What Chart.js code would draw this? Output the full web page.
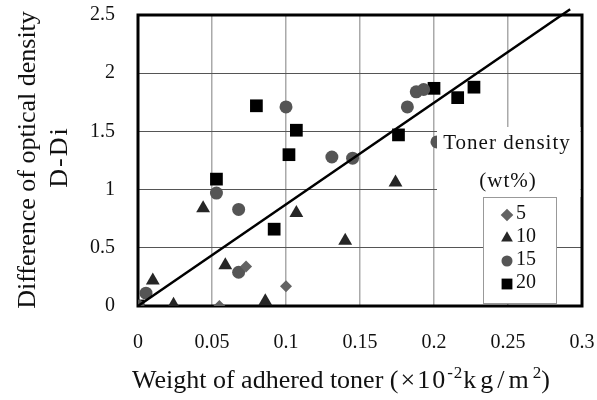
<!DOCTYPE html>
<html>
<head>
<meta charset="utf-8">
<script src="https://cdn.jsdelivr.net/npm/chart.js@4.4.1/dist/chart.umd.min.js"></script>
<style>
  body { margin: 0; background: #fff; }
</style>
</head>
<body>
<canvas id="c" width="597" height="400"></canvas>
<script>
// values
const seriesNames = ["5", "10", "15", "20"]

const x5 = [0.055, 0.073, 0.100]
const y5 = [0, 0.34, 0.17]

const x10 = [0.010, 0.024, 0.044, 0.059, 0.086, 0.107, 0.140, 0.174]
const y10 = [0.22, 0.01, 0.84, 0.35, 0.04, 0.80, 0.56, 1.06]

const x15 = [0, 0.0054, 0.053, 0.068, 0.068, 0.100, 0.131, 0.145, 0.182, 0.188, 0.193, 0.202]
const y15 = [0, 0.11, 0.97, 0.83, 0.29, 1.71, 1.28, 1.27, 1.71, 1.84, 1.86, 1.41]

const x20 = [0, 0.053, 0.080, 0.092, 0.102, 0.107, 0.176, 0.200, 0.216, 0.227]
const y20 = [0, 1.09, 1.72, 0.66, 1.30, 1.51, 1.47, 1.87, 1.79, 1.88]

// fitted line, end points
const lineX = [0, 0.292]
const lineY = [0, 2.55]

const xTickLabels = ["0", "0.05", "0.1", "0.15", "0.2", "0.25", "0.3"]
const yTickLabels = ["0", "0.5", "1", "1.5", "2", "2.5"]

const serif = "'Liberation Serif', 'Times New Roman', serif"

function pts(xs, ys) {
  return xs.map((x, i) => ({ x: x, y: ys[i] }))
}

const styles = [
  { pointStyle: "rectRot", radius: 6, color: "#636363" },
  { pointStyle: "triangle", radius: 8, color: "#262626" },
  { pointStyle: "circle", radius: 6.5, color: "#555555" },
  { pointStyle: "rect", radius: 9, color: "#000000" }
]
const legendScale = [1.05, 0.85, 0.85, 0.85]

const seriesData = [pts(x5, y5), pts(x10, y10), pts(x15, y15), pts(x20, y20)]

const datasets = seriesData.map((d, i) => ({
  label: seriesNames[i],
  data: d,
  showLine: false,
  pointStyle: styles[i].pointStyle,
  pointRadius: styles[i].radius,
  pointHoverRadius: styles[i].radius,
  pointBackgroundColor: styles[i].color,
  pointBorderColor: styles[i].color,
  pointBorderWidth: 0
}))

datasets.unshift({
  label: "fit",
  data: pts(lineX, lineY),
  showLine: true,
  borderColor: "#000",
  borderWidth: 2.5,
  pointRadius: 0,
  clip: 12
})

const decor = {
  id: "decor",
  beforeDatasetsDraw(chart) {
    const { ctx, chartArea: a } = chart
    ctx.save()
    ctx.strokeStyle = "#000"
    ctx.lineWidth = 3
    ctx.strokeRect(a.left, a.top, a.right - a.left, a.bottom - a.top)
    ctx.restore()
  },
  afterDatasetsDraw(chart) {
    const { ctx, chartArea: a } = chart
    ctx.save()
    // white box behind the legend heading
    ctx.fillStyle = "#fff"
    ctx.fillRect(437, 127, a.right - 438.5, 70)
    ctx.fillStyle = "#111"
    ctx.font = "21px " + serif
    ctx.letterSpacing = "1px"
    ctx.textAlign = "center"
    ctx.textBaseline = "middle"
    ctx.fillText("Toner density", 507, 143)
    ctx.fillText("(wt%)", 508, 181)
    ctx.letterSpacing = "0px"

    // legend box
    ctx.fillStyle = "#fff"
    ctx.fillRect(483, 197, 73, 106)
    ctx.strokeStyle = "#999"
    ctx.lineWidth = 1
    ctx.strokeRect(483.5, 197.5, 73, 106)
    const ly = [215, 238, 261, 284]
    chart.data.datasets.slice(1).forEach((ds, i) => {
      ctx.fillStyle = ds.pointBackgroundColor
      ctx.strokeStyle = ds.pointBorderColor
      Chart.helpers.drawPoint(ctx, {
        pointStyle: ds.pointStyle,
        radius: ds.pointRadius * legendScale[i],
        rotation: 0,
        borderWidth: 0
      }, 507, ly[i])
      ctx.fillStyle = "#111"
      ctx.font = "20px " + serif
      ctx.textAlign = "left"
      ctx.fillText(ds.label, 516, ly[i] - 1)
    })
    ctx.restore()
  },
  afterDraw(chart) {
    const { ctx } = chart
    ctx.save()
    ctx.fillStyle = "#111"
    // y title, two lines
    ctx.translate(28, 160)
    ctx.rotate(-Math.PI / 2)
    ctx.textAlign = "center"
    ctx.textBaseline = "middle"
    ctx.font = "26px " + serif
    ctx.fillText("Difference of optical density", 0, 0)
    ctx.letterSpacing = "2px"
    ctx.fillText("D-Di", 3, 32)
    ctx.restore()

    // x title with superscripts
    ctx.save()
    ctx.fillStyle = "#111"
    ctx.textBaseline = "alphabetic"
    const parts = [
      ["Weight of adhered toner ", 26, 0, "0px"],
      ["(\u00d710", 26, 0, "2px"],
      ["-2", 17, -10, "1px"],
      ["kg/m", 26, 0, "4px"],
      ["2", 17, -10, "0px"],
      [")", 26, 0, "0px"]
    ]
    let x = 132
    parts.forEach(p => {
      ctx.font = p[1] + "px " + serif
      ctx.letterSpacing = p[3]
      ctx.fillText(p[0], x, 388 + p[2])
      x += ctx.measureText(p[0]).width
    })
    ctx.restore()
  }
}

new Chart(document.getElementById("c"), {
  type: "scatter",
  data: { datasets },
  options: {
    responsive: false,
    animation: false,
    layout: { padding: { left: 0, top: 15, right: 15, bottom: 0 } },
    plugins: {
      legend: { display: false },
      tooltip: { enabled: false }
    },
    scales: {
      x: {
        type: "linear",
        min: 0,
        max: 0.3,
        afterFit: s => { s.height = 94; s.paddingLeft = 0; s.paddingRight = 0 },
        afterBuildTicks: s => { s.ticks = xTickLabels.map((t, i) => ({ value: i * 0.05 })) },
        border: { display: false },
        grid: { color: "#aaaaaa", lineWidth: 1.5, drawTicks: false },
        ticks: {
          padding: 25,
          color: "#111",
          font: { family: serif, size: 20 },
          maxRotation: 0,
          callback: (v, i) => xTickLabels[i]
        }
      },
      y: {
        type: "linear",
        min: 0,
        max: 2.5,
        afterFit: s => { s.width = 138; s.paddingTop = 0; s.paddingBottom = 0 },
        afterBuildTicks: s => { s.ticks = yTickLabels.map((t, i) => ({ value: i * 0.5 })) },
        border: { display: false },
        grid: { color: "#555555", lineWidth: 1, drawTicks: false },
        ticks: {
          padding: 23,
          color: "#111",
          font: { family: serif, size: 20 },
          callback: (v, i) => yTickLabels[i]
        }
      }
    }
  },
  plugins: [decor]
})
</script>
</body>
</html>
